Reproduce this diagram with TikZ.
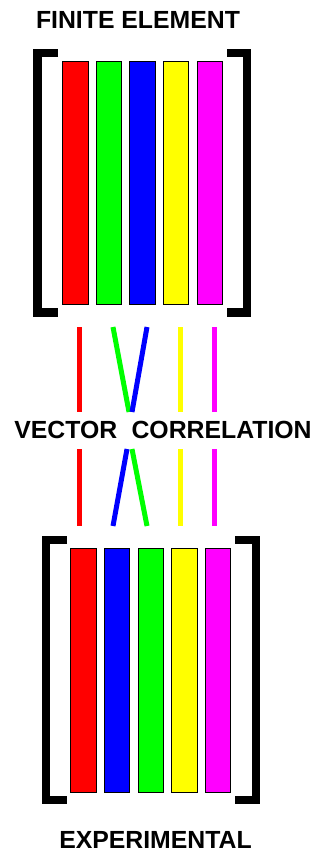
\documentclass[tikz,border=0pt]{standalone}
\usepackage{fontspec}
\setmainfont{Liberation Sans}
\usepackage{xcolor}
\definecolor{cRed}{HTML}{FF0000}
\definecolor{cGreen}{HTML}{00FF00}
\definecolor{cBlue}{HTML}{0000FF}
\definecolor{cYellow}{HTML}{FFFF00}
\definecolor{cMagenta}{HTML}{FF00FF}
\usetikzlibrary{positioning}
\tikzset{
  node-bar/.style={draw=black,line width=1pt,minimum width=25.5pt,
    minimum height=243pt,inner sep=0pt},
  node-title/.style={inner sep=0pt,font=\fontsize{24.8}{28}\selectfont\bfseries},
  bracket/.style={line width=8.5pt,draw=black},
  link/.style={line width=5pt},
}
\begin{document}
\begin{tikzpicture}[x=1pt,y=-1pt]
  \useasboundingbox (0,0) rectangle (322,852);
  % titles
  \node[node-title] (fe)  at (138,19.5)  {FINITE ELEMENT};
  \node[node-title] (vc)  at (163,430)   {VECTOR\hspace{0.3em} CORRELATION};
  \node[node-title] (exp) at (155.5,840) {EXPERIMENTAL};
  % finite element mode shapes
  \foreach \x/\c/\n in {75.25/cRed/fr,108.75/cGreen/fg,142.5/cBlue/fb,
                        176/cYellow/fy,209.75/cMagenta/fm}
    \node[node-bar,fill=\c] (\n) at (\x,182.5) {};
  \draw[bracket] (58,53) -- (37.5,53) -- (37.5,312.5) -- (58,312.5);
  \draw[bracket] (227,53) -- (247,53) -- (247,312.5) -- (227,312.5);
  % experimental mode shapes
  \foreach \x/\c/\n in {83.5/cRed/er,117/cBlue/eb,151/cGreen/eg,
                        184.5/cYellow/ey,218/cMagenta/em}
    \node[node-bar,minimum height=244pt,fill=\c] (\n) at (\x,670) {};
  \draw[bracket] (67,540) -- (46,540) -- (46,800) -- (67,800);
  \draw[bracket] (235,540) -- (256,540) -- (256,800) -- (235,800);
  % pairing lines
  \foreach \n/\a/\b in {r/79/79,g/113/129,b/147/132,y/180/180,m/214/214}{
    \coordinate (\n1) at (\a,327);
    \coordinate (\n2) at (\b,412);
  }
  \foreach \n/\a/\b in {r/79/79,b/127/113,g/132/147,y/180/180,m/214/214}{
    \coordinate (\n3) at (\a,449);
    \coordinate (\n4) at (\b,526);
  }
  \draw[link,cRed]     (r1) -- (r2) (r3) -- (r4);
  \draw[link,cGreen]   (g1) -- (g2) (g3) -- (g4);
  \draw[link,cBlue]    (b1) -- (b2) (b3) -- (b4);
  \draw[link,cYellow]  (y1) -- (y2) (y3) -- (y4);
  \draw[link,cMagenta] (m1) -- (m2) (m3) -- (m4);
\end{tikzpicture}
\end{document}
